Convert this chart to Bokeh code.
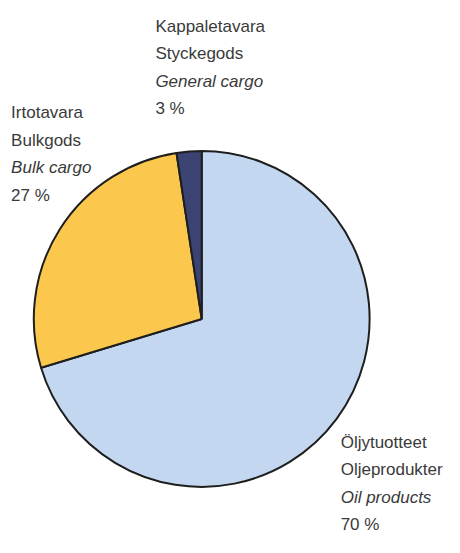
import math
from bokeh.plotting import figure
from bokeh.models import Range1d, ColumnDataSource
from bokeh.core.properties import value
from bokeh.embed import file_html
from bokeh.resources import INLINE

# --- data ---
categories = ["Öljytuotteet", "Irtotavara", "Kappaletavara"]
names_sv = ["Oljeprodukter", "Bulkgods", "Styckegods"]
names_en = ["Oil products", "Bulk cargo", "General cargo"]
share_labels = ["70 %", "27 %", "3 %"]
shares = [70.3, 27.3, 2.4]
colors = ["#c4d7f0", "#fbc74d", "#3b4373"]

W, H = 444, 537
S = 0.965  # layout scale so the whole fits inside the figure
XR, YR = W / S, H / S
p = figure(width=W, height=H, output_backend="svg", toolbar_location=None,
           x_range=Range1d(0, XR), y_range=Range1d(0, YR),
           min_border=0)
p.axis.visible = False
p.grid.visible = False
p.outline_line_color = None
p.background_fill_color = "white"

# pie (layout in reference pixels, y measured from top)
cx, cy, r = 208.5, YR - 330, 174
total = sum(shares)
starts, ends = [], []
acc = 0.0
for s in shares:
    starts.append(math.pi / 2 - 2 * math.pi * acc / total)
    acc += s
    ends.append(math.pi / 2 - 2 * math.pi * acc / total)
src = ColumnDataSource(dict(x=[cx] * 3, y=[cy] * 3, start=starts, end=ends, color=colors))
p.wedge(x="x", y="y", radius=r, start_angle="start", end_angle="end",
        direction="clock", fill_color="color", line_color="#1e1e1e", line_width=2,
        source=src)

# labels: block anchors (left x, first baseline)
anchors = [(352.5, 458), (11, 116.5), (160.5, 27)]
step = 28.4
xs, ys, txt, styles = [], [], [], []
for i in range(3):
    ax, ay = anchors[i]
    lines = [categories[i], names_sv[i], names_en[i], share_labels[i]]
    st = ["normal", "normal", "italic", "normal"]
    for j, (t, s) in enumerate(zip(lines, st)):
        xs.append(ax)
        ys.append(YR - (ay + j * step))
        txt.append(t)
        styles.append(s)
lsrc = ColumnDataSource(dict(x=xs, y=ys, text=txt, style=styles))
p.text(x="x", y="y", text="text", source=lsrc, text_font=value("Liberation Sans"),
       text_font_size="17px", text_font_style="style", text_color="#3a3a3a",
       text_align="left", text_baseline="alphabetic")

open("out.html", "w").write(file_html(p, INLINE))
